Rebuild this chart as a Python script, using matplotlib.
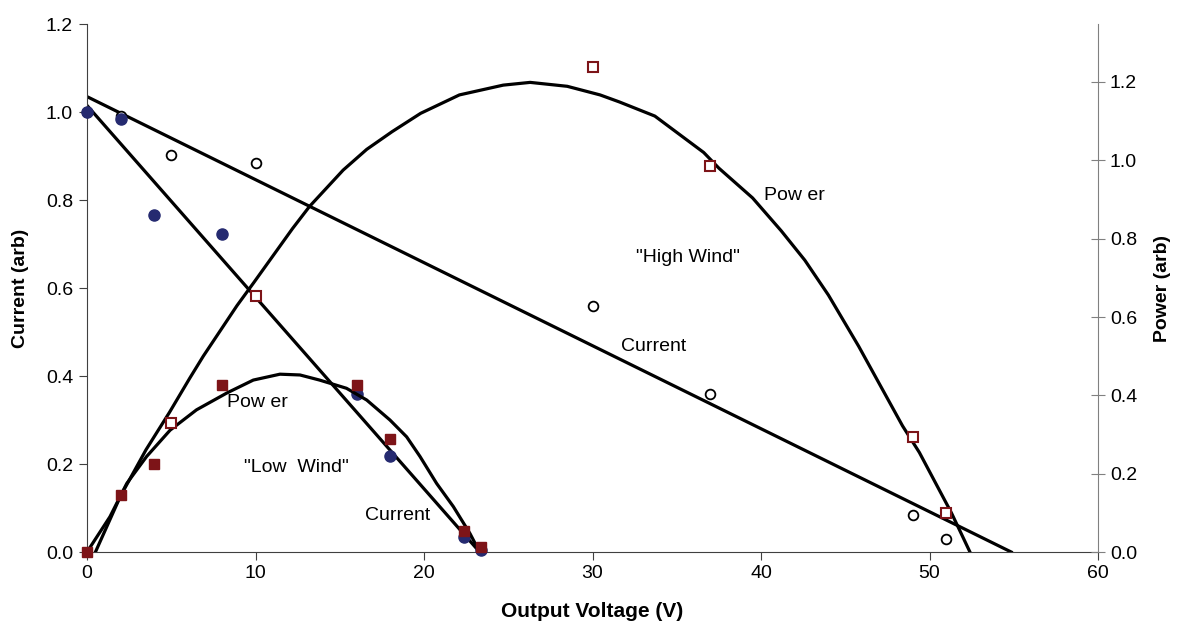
import matplotlib
matplotlib.use("Agg")
import matplotlib.pyplot as plt

plt.rcParams['font.family'] = ['Liberation Sans', 'DejaVu Sans']

# low wind: measured current (left axis) and power (right axis)
low_v = [0, 2, 4, 8, 16, 18, 22.4, 23.4]
low_i = [1.0, 0.985, 0.766, 0.723, 0.36, 0.218, 0.034, 0.005]
low_p = [0.0, 0.146, 0.224, 0.427, 0.427, 0.288, 0.054, 0.013]

# high wind
high_iv = [0, 2, 5, 10, 30, 37, 49, 51]
high_i = [1.0, 0.991, 0.902, 0.884, 0.56, 0.358, 0.083, 0.029]
high_pv = [5, 10, 30, 37, 49, 51]
high_p = [0.33, 0.654, 1.238, 0.985, 0.294, 0.1]

# straight current trend lines (end points)
low_line_v = [0, 23.3]
low_line_i = [1.015, 0.0]
high_line_v = [0, 54.85]
high_line_i = [1.035, 0.0]

# power trend curves (right axis units)
low_curve_v = [0, 1.36, 2.36, 3.54, 4.93, 6.5, 8.3, 9.87, 11.45, 12.64, 13.8,
               15.4, 16.6, 17.98, 18.97, 19.76, 20.75, 21.74, 22.73, 23.3]
low_curve_p = [0.0, 0.09, 0.175, 0.244, 0.311, 0.363, 0.406, 0.439, 0.454, 0.452,
               0.439, 0.418, 0.388, 0.337, 0.294, 0.244, 0.175, 0.116, 0.047, 0.0]
high_curve_v = [0.5, 2.0, 3.5, 4.9, 6.1, 6.9, 8.9, 9.9, 12.2, 13.2, 15.2, 16.6,
                18.1, 19.8, 22.1, 24.7, 26.3, 28.5, 30.45, 31.6, 33.7, 36.6, 37.5,
                39.5, 41.2, 42.6, 44.0, 45.8, 48.4, 49.4, 51.3, 52.4]
high_curve_p = [0.0, 0.144, 0.261, 0.357, 0.444, 0.5, 0.629, 0.688, 0.826, 0.882,
                0.975, 1.028, 1.073, 1.12, 1.167, 1.192, 1.199, 1.189, 1.167, 1.149,
                1.113, 1.02, 0.98, 0.904, 0.82, 0.745, 0.656, 0.525, 0.322, 0.254,
                0.1, 0.0]

navy = '#252a70'
dred = '#7d1418'

fig = plt.figure(figsize=(11.79, 6.29), dpi=100)
ax = fig.add_axes([0.0738, 0.1224, 0.8575, 0.8394])
ax2 = ax.twinx()

# current on left axis
ax.plot(low_line_v, low_line_i, color='black', lw=2.3, zorder=2)
ax.plot(high_line_v, high_line_i, color='black', lw=2.3, zorder=2)
ax.plot(high_iv, high_i, 'o', ms=7, mfc='white', mec='black', mew=1.3,
        clip_on=False, zorder=3)
ax.plot(low_v, low_i, 'o', ms=8, color=navy, clip_on=False, zorder=4)

# power on right axis
ax2.plot(low_curve_v, low_curve_p, color='black', lw=2.3, zorder=2)
ax2.plot(high_curve_v, high_curve_p, color='black', lw=2.3, zorder=2)
ax2.plot(low_v, low_p, 's', ms=7.5, color=dred, clip_on=False, zorder=4)
ax2.plot(high_pv, high_p, 's', ms=6.5, mfc='white', mec=dred, mew=1.5,
         clip_on=False, zorder=3)

ax.set_xlim(0, 60)
ax.set_ylim(0, 1.2)
ax2.set_ylim(0, 1.348)
ax.set_xticks(range(0, 61, 10))
ax.set_yticks([0, 0.2, 0.4, 0.6, 0.8, 1.0, 1.2])
ax.set_yticklabels(['0.0', '0.2', '0.4', '0.6', '0.8', '1.0', '1.2'])
ax2.set_yticks([0, 0.2, 0.4, 0.6, 0.8, 1.0, 1.2])
ax2.set_yticklabels(['0.0', '0.2', '0.4', '0.6', '0.8', '1.0', '1.2'])

for a in (ax, ax2):
    a.spines['top'].set_visible(False)
ax.spines['right'].set_visible(False)
ax2.spines['left'].set_visible(False)
ax2.spines['bottom'].set_visible(False)
ax2.spines['right'].set_color('#808080')
ax.spines['left'].set_color('#404040')
ax.spines['bottom'].set_color('#404040')

ax.tick_params(axis='both', labelsize=14, length=6, direction='out', color='#404040')
ax.tick_params(axis='y', pad=4)
ax2.tick_params(axis='y', labelsize=14, length=10, direction='inout', color='#808080')

ax.set_xlabel('Output Voltage (V)', fontsize=15, fontweight='bold', labelpad=14)
ax.set_ylabel('Current (arb)', fontsize=14, fontweight='bold', labelpad=12)
ax2.set_ylabel('Power (arb)', fontsize=14, fontweight='bold', labelpad=12)

# annotations
ax.text(8.3, 0.339, 'Pow er', fontsize=14, va='center')
ax.text(9.3, 0.193, '"Low  Wind"', fontsize=14, va='center')
ax.text(16.5, 0.082, 'Current', fontsize=14, va='center')
ax.text(32.6, 0.67, '"High Wind"', fontsize=14, va='center')
ax.text(31.7, 0.466, 'Current', fontsize=14, va='center')
ax.text(40.2, 0.811, 'Pow er', fontsize=14, va='center')

fig.savefig('out.png', dpi=100)
